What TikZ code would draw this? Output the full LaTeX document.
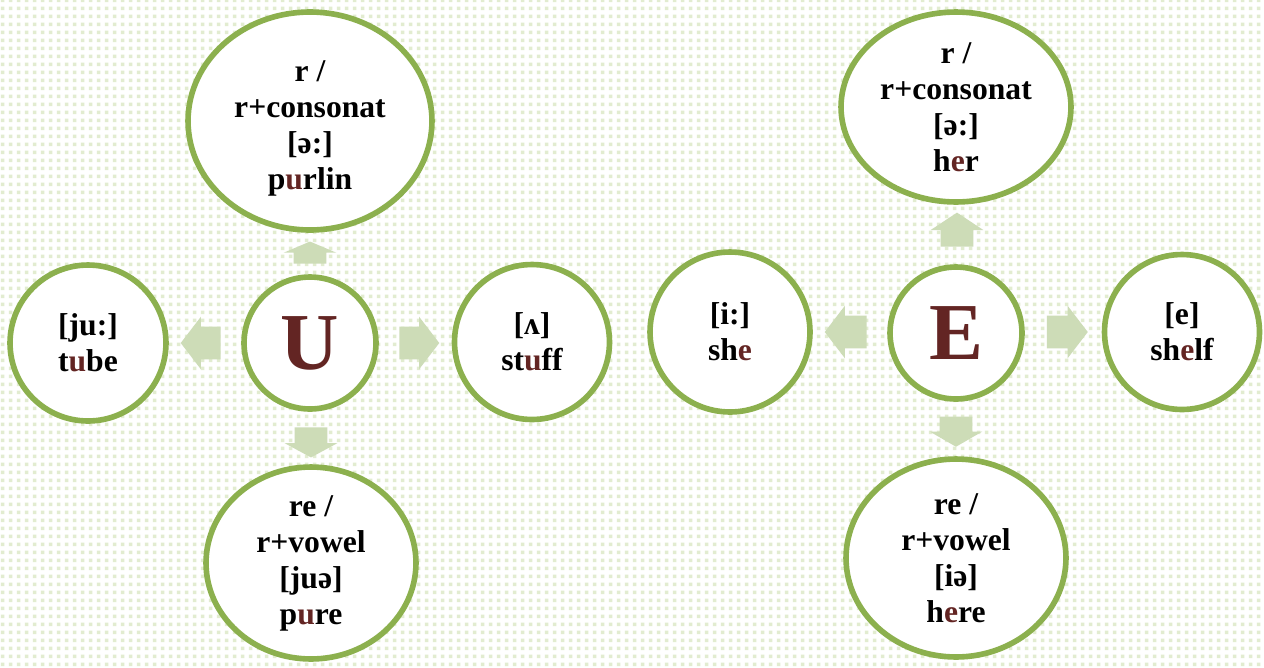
\documentclass[tikz,border=0pt]{standalone}
\usepackage{fontspec}
\setmainfont{Liberation Serif}
\usetikzlibrary{shapes.geometric,shapes.arrows,patterns.meta}
\definecolor{ringgreen}{RGB}{140,176,78}
\definecolor{arrowgreen}{RGB}{205,220,183}
\definecolor{letterred}{RGB}{99,37,35}
\definecolor{dotgreen}{RGB}{226,236,208}
\newcommand{\vow}[1]{\textcolor{letterred}{#1}}
\tikzdeclarepattern{name=confetti,type=uncolored,
  bounding box={(0pt,0pt) and (4.5pt,4.5pt)},tile size={(4.5pt,4.5pt)},
  code={\fill (0.5pt,0.5pt) rectangle (2.5pt,2.5pt);}}
\tikzset{
  bubble/.style={ellipse,draw=ringgreen,line width=3.2pt,fill=white,inner sep=0pt,
    align=center,font=\fontsize{18}{20.5}\selectfont\bfseries},
  hub/.style={bubble,minimum size=2.64cm,text=letterred,font=\fontsize{46}{46}\selectfont\bfseries},
  blockarrow/.style={single arrow,fill=arrowgreen,inner xsep=0pt,inner ysep=0.32cm,
    single arrow head extend=0.2cm,single arrow tip angle=105,minimum height=#1}
}
\begin{document}
\begin{tikzpicture}[x=0.02cm,y=-0.02cm]
\useasboundingbox (0,0) rectangle (1264,667);
\fill[white] (0,0) rectangle (1264,667);
\fill[pattern=confetti,pattern color=dotgreen] (0,0) rectangle (1264,667);
%
% U
\node[hub] (u) at (310,343) {U};
\node[bubble,minimum width=4.88cm,minimum height=4.36cm] (urc) at (310,121) {\rule{0pt}{0.7cm}r /\\r+consonat\\{[ə:]}\\p\vow{u}rlin};
\node[bubble,minimum size=3.12cm] (ujuu) at (88,343) {{[ju:]}\\t\vow{u}be};
\node[bubble,minimum size=3.1cm] (uwedge) at (532,342) {{[ʌ]}\\st\vow{u}ff};
\node[bubble,minimum width=4.2cm,minimum height=3.84cm] (urv) at (311,563) {re /\\r+vowel\\{[juə]}\\p\vow{u}re};
\node[blockarrow=0.8cm] (ua1) at (413,343) {};
\node[blockarrow=0.8cm,rotate=180] (ua2) at (207,343) {};
\node[blockarrow=0.44cm,rotate=90,single arrow tip angle=134] (ua3) at (310,256) {};
\node[blockarrow=0.6cm,rotate=270,single arrow tip angle=123] (ua4) at (311,438) {};
%
% E
\node[hub] (e) at (956,333) {E};
\node[bubble,minimum width=4.6cm,minimum height=3.8cm] (erc) at (956,107) {r /\\r+consonat\\{[ə:]}\\h\vow{e}r};
\node[bubble,minimum size=3.2cm] (eii) at (730,332) {{[i:]}\\sh\vow{e}};
\node[bubble,minimum size=3.1cm] (ee) at (1182,332) {{[e]}\\sh\vow{e}lf};
\node[bubble,minimum width=4.4cm,minimum height=3.96cm] (erv) at (956,558) {re /\\r+vowel\\{[iə]}\\h\vow{e}re};
\node[blockarrow=0.82cm] (ea1) at (1061,332) {};
\node[blockarrow=0.84cm,rotate=180] (ea2) at (852,332) {};
\node[blockarrow=0.68cm,rotate=90,single arrow tip angle=113] (ea3) at (957,235) {};
\node[blockarrow=0.6cm,rotate=270,single arrow tip angle=120] (ea4) at (956,427) {};
\end{tikzpicture}
\end{document}
